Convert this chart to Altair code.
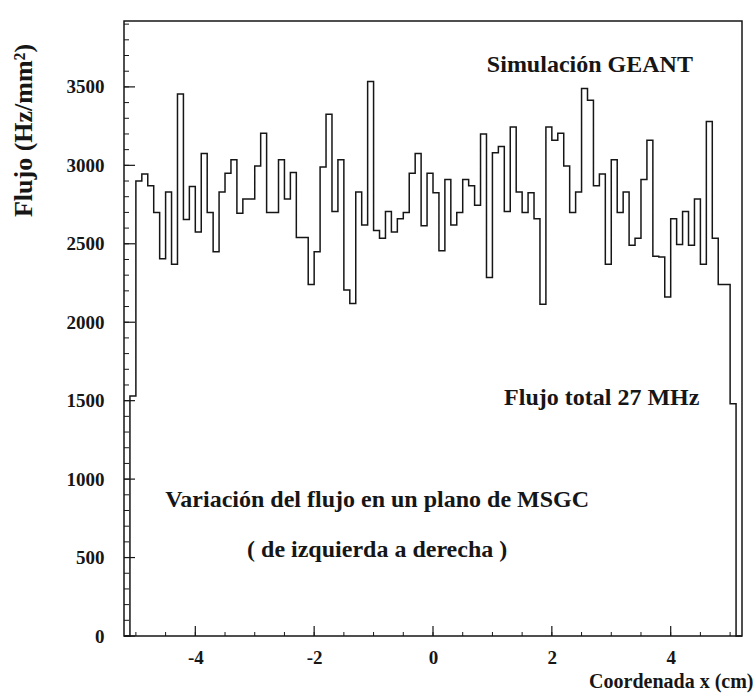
import altair as alt
import pandas as pd

# ---------------- data ----------------
X_MIN, X_MAX = -5.2, 5.2      # histogram range (cm)
BIN_W = 0.1                   # bin width (cm)
Y_MAX = 3920                  # top of the frame (Hz/mm^2)

flux = [
    0, 1530,
    2900, 2945, 2870, 2700, 2405, 2830, 2370, 3455, 2655, 2865,
    2575, 3075, 2700, 2450, 2830, 2950, 3035, 2695, 2785, 2785,
    2995, 3205, 2700, 2700, 3035, 2785, 2955, 2540, 2540, 2240,
    2450, 2990, 3325, 2705, 3035, 2205, 2120, 2830, 2620, 3535,
    2585, 2535, 2705, 2575, 2660, 2700, 2950, 3075, 2615, 2950,
    2825, 2455, 2910, 2620, 2700, 2910, 2870, 2745, 3200, 2285,
    3080, 3120, 2705, 3245, 2830, 2700, 2825, 2660, 2115, 3245,
    3160, 3205, 2995, 2700, 2830, 3490, 3415, 2870, 2945, 2370,
    3035, 2700, 2830, 2490, 2535, 2910, 3160, 2420, 2415, 2160,
    2660, 2495, 2705, 2490, 2785, 2370, 3280, 2535, 2240, 2240,
    1480, 0,
]

y_major = [0, 500, 1000, 1500, 2000, 2500, 3000, 3500]
y_minor = list(range(0, 3901, 100))
x_major = [-4, -2, 0, 2, 4]
x_minor = [-5.0, -4.5, -4.0, -3.5, -3.0, -2.5, -2.0, -1.5, -1.0, -0.5, 0.0,
           0.5, 1.0, 1.5, 2.0, 2.5, 3.0, 3.5, 4.0, 4.5, 5.0]

notes_text = ["Simulación GEANT", "Flujo total 27 MHz",
              "Variación del flujo en un plano de MSGC",
              "( de izquierda a derecha )"]
notes_x = [2.64, 2.84, -0.94, -0.94]
notes_y = [3640, 1520, 867, 548]

# ---------------- tables ----------------
edges = [round(X_MIN + i * BIN_W, 4) for i in range(len(flux) + 1)]
hist = pd.DataFrame({"x": edges, "y": flux + [0]})
notes = pd.DataFrame({"x": notes_x, "y": notes_y, "t": notes_text})

W, H = 618, 615
INK = "#161616"
SERIF = "Liberation Serif"

xs = alt.Scale(domain=[X_MIN, X_MAX], nice=False, zero=False)
ys = alt.Scale(domain=[0, Y_MAX], nice=False, zero=True)

x_axis = alt.Axis(
    values=x_major, labelExpr="datum.value + ''",
    domain=False, ticks=False, grid=False,
    labelFont=SERIF, labelFontSize=19, labelFontWeight="bold",
    labelColor=INK, labelPadding=12,
    title="Coordenada x (cm)", titleFont=SERIF, titleFontSize=20,
    titleFontWeight="bold", titleColor=INK,
    titleX=629, titleY=51, titleAlign="right", titleBaseline="alphabetic",
)
y_axis = alt.Axis(
    values=y_major, format="d",
    domain=False, ticks=False, grid=False,
    labelFont=SERIF, labelFontSize=19, labelFontWeight="bold",
    labelColor=INK, labelPadding=20,
    title="Flujo (Hz/mm²)", titleFont=SERIF, titleFontSize=26,
    titleFontWeight="bold", titleColor=INK,
    titleAngle=270, titleX=-101, titleY=109,
    titleAlign="center", titleBaseline="middle",
)

X = lambda f: alt.X(f, scale=xs, axis=x_axis, title="Coordenada x (cm)")
Y = lambda f: alt.Y(f, scale=ys, axis=y_axis, title="Flujo (Hz/mm²)")

line = alt.Chart(hist).mark_line(
    interpolate="step-after", color=INK, strokeWidth=1.5
).encode(x=X("x:Q"), y=Y("y:Q"))

ymin_r = alt.Chart(pd.DataFrame({"y": y_minor})).mark_rule(
    color=INK, strokeWidth=1).encode(
    y=Y("y:Q"), x=alt.value(0), x2=alt.value(5))
ymaj_r = alt.Chart(pd.DataFrame({"y": y_major})).mark_rule(
    color=INK, strokeWidth=1.2).encode(
    y=Y("y:Q"), x=alt.value(0), x2=alt.value(11))
xmin_r = alt.Chart(pd.DataFrame({"x": x_minor})).mark_rule(
    color=INK, strokeWidth=1).encode(
    x=X("x:Q"), y=alt.value(H), y2=alt.value(H - 4))
xmaj_r = alt.Chart(pd.DataFrame({"x": x_major})).mark_rule(
    color=INK, strokeWidth=1.2).encode(
    x=X("x:Q"), y=alt.value(H), y2=alt.value(H - 10))

text = alt.Chart(notes).mark_text(
    font=SERIF, fontSize=24, fontWeight="bold", color=INK,
    align="center", baseline="middle"
).encode(x=X("x:Q"), y=Y("y:Q"), text="t:N")

chart = alt.layer(line, ymin_r, ymaj_r, xmin_r, xmaj_r, text).properties(
    width=W, height=H,
    autosize=alt.AutoSizeParams(type="none"),
    padding={"left": 124, "top": 21, "right": 14, "bottom": 61},
    background="white",
).configure_view(stroke=INK, strokeWidth=1.5)

chart.save("out.html", embed_options={"renderer": "svg", "actions": False})
